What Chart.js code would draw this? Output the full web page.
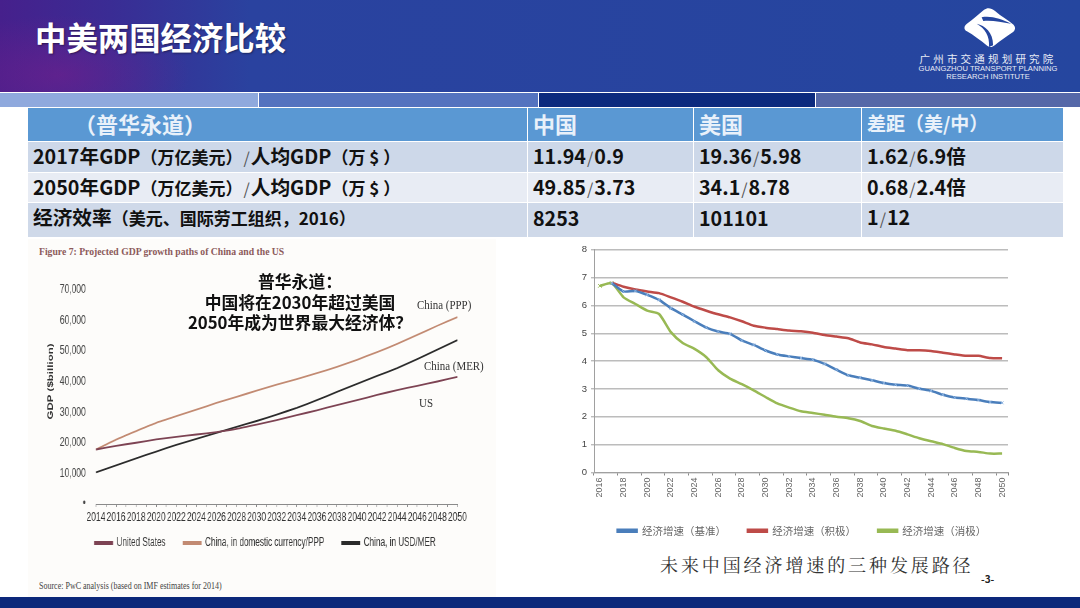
<!DOCTYPE html>
<html lang="zh">
<head>
<meta charset="utf-8">
<title>中美两国经济比较</title>
<script src="https://cdn.jsdelivr.net/npm/chart.js@4"></script>
<style>
html, body { margin: 0; padding: 0; background: #fff; }
#slide { position: relative; width: 1080px; height: 608px; overflow: hidden; font-family: "Noto Sans CJK SC", sans-serif; background: #fff; }
#slide > * { position: absolute; }
#head { left: 0; top: 0; width: 1080px; height: 92px;
  background: radial-gradient(ellipse 130px 60px at 60px 75px, rgba(120,30,140,.55), transparent),
              linear-gradient(90deg, #46208c 0, #3a2c94 110px, #2a429f 250px, #25469f 100%); }
#title { left: 35px; top: 16px; font-size: 31.4px; line-height: 42px; font-weight: 700; color: #fff; text-shadow: 1px 1px 2px rgba(0,0,0,.4); white-space: nowrap; }
.band { top: 93px; height: 14px; }
.logo-t { left: 905px; width: 166px; text-align: center; color: #e8ecf6; white-space: nowrap; }
#tbl { left: 27px; top: 108px; width: 1036px; border-collapse: separate; border-spacing: 0; table-layout: fixed; }
#tbl td { padding: 0 0 0 5px; font-weight: 700; font-size: 19.7px; line-height: 24px; color: #111; border-left: 1.5px solid #fff; border-top: 1.5px solid #fff; white-space: nowrap; overflow: hidden; }
#tbl tr:first-child td { background: #5a98d3; color: #e9f1fa; height: 29px; padding-bottom: 4px; font-size: 22px; border-top: 0; }
#tbl .r1 td { background: #cdd8e9; height: 29.5px; }
#tbl .r2 td { background: #e8ecf4; height: 29.5px; }
#tbl .r3 td { background: #cfd9e9; height: 29px; padding-bottom: 5px; }
#tbl small { font-size: 17px; font-weight: 700; }
#tbl i { font-style: normal; font-weight: 400; font-size: 16px; color: #555; padding: 0 1px; }
#figbg { left: 28px; top: 239px; width: 468px; height: 358px; background: #fdfcfa; }
.serif { font-family: "Liberation Serif", serif; white-space: nowrap; transform-origin: left top; }
.lab { font-size: 13px; color: #333; transform: scaleX(.84); }
#note { left: 150px; top: 271px; width: 300px; text-align: center; font-size: 16.8px; line-height: 20.5px; font-weight: 700; color: #111; white-space: nowrap; }
#cap { left: 660px; top: 551px; font-size: 18px; line-height: 26px; letter-spacing: 2.9px; color: #333; white-space: nowrap; font-family: "Noto Serif CJK SC", "Noto Sans CJK SC", sans-serif; }
#page { left: 981px; top: 571px; font-size: 10px; font-weight: 700; color: #222; }
#foot { left: 0; top: 597px; width: 1080px; height: 11px; background: #0c287a; }
canvas { display: block; }
</style>
</head>
<body>
<div id="slide">
  <div id="head"></div>
  <div id="title">中美两国经济比较</div>
  <svg style="left:962px;top:8px" width="54" height="40" viewBox="0 0 66 43" preserveAspectRatio="none">
    <path d="M6 17 C14 12 20 7 27 2 C31 -1 36 0 40 3 C48 9 56 13 63 18 C66 21 65 24 62 26 C55 30 47 35 40 40 C36 43 33 42 30 40 C23 35 14 29 6 25 C2 23 2 20 6 17 Z" fill="#fff"/>
    <path d="M33 42 C34 30 28 22 18 17 C28 19 38 26 38 40 Z" fill="#25469f"/>
    <path d="M24 10 C36 8 48 12 60 17 C48 15 36 13 26 14 Z" fill="#25469f"/>
  </svg>
  <div class="logo-t" style="top:52px;font-size:10.5px;line-height:14px;letter-spacing:3.2px">广州市交通规划研究院</div>
  <div class="logo-t" style="top:65px;font-size:7.6px;line-height:7.5px;font-family:'Liberation Sans',sans-serif">GUANGZHOU TRANSPORT PLANNING<br>RESEARCH INSTITUTE</div>
  <div class="band" style="left:0;width:258px;background:#8fa9dd"></div>
  <div class="band" style="left:259px;width:279px;background:#5473bf"></div>
  <div class="band" style="left:539px;width:276px;background:#0c2a7e"></div>
  <div class="band" style="left:816px;width:264px;background:#5568a8"></div>

  <table id="tbl">
    <colgroup><col style="width:500px"><col style="width:166px"><col style="width:168px"><col style="width:202px"></colgroup>
    <tr><td style="padding-left:46px">（普华永道）</td><td>中国</td><td>美国</td><td style="font-size:19px">差距（美/中）</td></tr>
    <tr class="r1"><td>2017年GDP<small>（万亿美元）</small><i>/</i>人均GDP<small>（万 $ ）</small></td><td>11.94<i>/</i>0.9</td><td>19.36<i>/</i>5.98</td><td>1.62<i>/</i>6.9倍</td></tr>
    <tr class="r2"><td>2050年GDP<small>（万亿美元）</small><i>/</i>人均GDP<small>（万 $ ）</small></td><td>49.85<i>/</i>3.73</td><td>34.1<i>/</i>8.78</td><td>0.68<i>/</i>2.4倍</td></tr>
    <tr class="r3"><td>经济效率<small>（美元、国际劳工组织，2016）</small></td><td>8253</td><td>101101</td><td>1<i>/</i>12</td></tr>
  </table>

  <div id="figbg"></div>
  <div class="serif" style="left:39px;top:244px;font-size:11px;line-height:14px;font-weight:700;color:#8c5a5a;transform:scaleX(.88)">Figure 7: Projected GDP growth paths of China and the US</div>
  <!-- 原图文字很窄, 没有窄体字, 所以整个画布横向压缩 -->
  <div style="left:46px;top:240px;width:625px;height:337px;transform:scaleX(.68);transform-origin:left top"><canvas id="gdpChart" width="625" height="337"></canvas></div>
  <div style="left:560px;top:240px;width:460px;height:311px"><canvas id="growthChart" width="460" height="311"></canvas></div>
  <div id="note">普华永道：<br>中国将在2030年超过美国<br>2050年成为世界最大经济体？</div>
  <div class="serif lab" style="left:417px;top:297px">China (PPP)</div>
  <div class="serif lab" style="left:424px;top:358px">China (MER)</div>
  <div class="serif lab" style="left:419px;top:395px">US</div>
  <div class="serif" style="left:39px;top:580px;font-size:10px;line-height:12px;color:#444;transform:scaleX(.8)">Source: PwC analysis (based on IMF estimates for 2014)</div>
  <div id="cap">未来中国经济增速的三种发展路径</div>
  <div id="page">-3-</div>
  <div id="foot"></div>
</div>

<script>
// 左图: GDP (十亿美元), 只读偶数年, 奇数年留空
const gdpYears = ['2014','2015','2016','2017','2018','2019','2020','2021','2022','2023','2024','2025','2026','2027','2028','2029','2030','2031','2032','2033','2034','2035','2036','2037','2038','2039','2040','2041','2042','2043','2044','2045','2046','2047','2048','2049','2050'];
const usGdp = [17800,null,19000,null,20000,null,21100,null,21900,null,22700,null,23500,null,24500,null,25900,null,27400,null,29000,null,30600,null,32300,null,33900,null,35600,null,37200,null,38600,null,40000,null,41500];
const chinaPpp = [17800,null,21000,null,23800,null,26500,null,28700,null,30800,null,33000,null,35000,null,37000,null,39000,null,40800,null,42700,null,44800,null,47100,null,49600,null,52300,null,55200,null,58200,null,61000];
const chinaMer = [10300,null,12600,null,14900,null,17100,null,19300,null,21300,null,23200,null,25200,null,27100,null,29200,null,31400,null,33900,null,36600,null,39200,null,41800,null,44400,null,47300,null,50400,null,53500];
const gdpNames = ['United States', 'China, in domestic currency/PPP', 'China, in USD/MER'];

// 右图: 经济增速 (%)
const growthYears = ['2016','2017','2018','2019','2020','2021','2022','2023','2024','2025','2026','2027','2028','2029','2030','2031','2032','2033','2034','2035','2036','2037','2038','2039','2040','2041','2042','2043','2044','2045','2046','2047','2048','2049','2050'];
const growthBase = [null,6.8,6.5,6.52,6.38,6.2,5.9,5.67,5.43,5.2,5.06,4.98,4.74,4.58,4.38,4.24,4.17,4.11,4.05,3.9,3.69,3.49,3.4,3.31,3.21,3.15,3.12,3.01,2.93,2.79,2.69,2.65,2.6,2.53,2.5];
const growthHigh = [null,6.82,6.67,6.57,6.5,6.44,6.29,6.13,5.95,5.81,5.68,5.57,5.43,5.27,5.2,5.15,5.1,5.07,5.02,4.94,4.88,4.82,4.67,4.6,4.51,4.45,4.39,4.39,4.36,4.3,4.24,4.19,4.19,4.11,4.1];
const growthLow = [6.7,6.8,6.29,6.05,5.81,5.69,5.04,4.65,4.44,4.14,3.67,3.37,3.17,2.95,2.71,2.48,2.33,2.2,2.14,2.07,2,1.95,1.85,1.67,1.58,1.5,1.37,1.23,1.12,1.02,0.88,0.77,0.74,0.68,0.68];
const growthNames = ['经济增速（基准）', '经济增速（积极）', '经济增速（消极）'];

const sans = '"Liberation Sans", sans-serif';
const cjk = '"Noto Sans CJK SC", sans-serif';

// 图例位置在 layout 之后挪一下, Chart.js 自己放不到原图的位置
function shiftLegend(dx, dy) {
    return {
        id: 'shiftLegend',
        afterLayout(chart) {
            chart.legend.left += dx;
            chart.legend.right += dx;
            chart.legend.top += dy;
            chart.legend.bottom += dy;
        }
    };
}

new Chart(document.getElementById('gdpChart').getContext('2d'), {
    type: 'line',
    data: {
        labels: gdpYears,
        datasets: [
            { label: gdpNames[0], data: usGdp, borderColor: '#7d4353', backgroundColor: '#7d4353' },
            { label: gdpNames[1], data: chinaPpp, borderColor: '#c28a72', backgroundColor: '#c28a72' },
            { label: gdpNames[2], data: chinaMer, borderColor: '#2b2b2b', backgroundColor: '#2b2b2b' }
        ].map(d => ({ ...d, borderWidth: 1.8, pointRadius: 0, spanGaps: true, tension: 0.2 }))
    },
    plugins: [shiftLegend(20, -18)],
    options: {
        responsive: false,
        animation: false,
        layout: { padding: { top: 19, right: 20 } },
        scales: {
            x: {
                offset: false,
                afterFit: s => { s.height = 25; },
                border: { color: '#8a8a8a' },
                grid: { drawOnChartArea: false, tickLength: 3, color: '#8a8a8a' },
                ticks: {
                    autoSkip: false, maxRotation: 0, minRotation: 0, padding: 3,
                    color: '#333', font: { family: sans, size: 12.5 },
                    callback: function (v, i) { return i % 2 ? '' : this.getLabelForValue(v); }
                }
            },
            y: {
                min: 0, max: 80000,
                afterFit: s => { s.width = 73.5; },
                border: { display: false },
                grid: { display: false },
                title: { display: true, text: 'GDP ($billion)', color: '#333', padding: 0, font: { family: sans, size: 11.5, weight: 'bold' } },
                ticks: {
                    stepSize: 10000, padding: 7,
                    color: '#444', font: { family: sans, size: 12.5 },
                    callback: v => v > 70000 ? '' : (v === 0 ? '•' : v.toLocaleString('en-US'))
                }
            }
        },
        plugins: {
            tooltip: { enabled: false },
            legend: {
                position: 'bottom',
                labels: { boxWidth: 26, boxHeight: 2, padding: 26, color: '#333', font: { family: sans, size: 12 } }
            }
        }
    }
});

new Chart(document.getElementById('growthChart').getContext('2d'), {
    type: 'line',
    data: {
        labels: growthYears,
        datasets: [
            { label: growthNames[0], data: growthBase, borderColor: '#4a7ebb', backgroundColor: '#4a7ebb', pointRadius: 2, pointStyle: 'crossRot', pointBorderColor: '#8db4e2', pointBorderWidth: 1 },
            { label: growthNames[1], data: growthHigh, borderColor: '#be4b48', backgroundColor: '#be4b48', pointRadius: 0 },
            { label: growthNames[2], data: growthLow, borderColor: '#98b954', backgroundColor: '#98b954', pointStyle: 'crossRot', pointBorderColor: '#98b954', pointBorderWidth: 1, pointRadius: ctx => ctx.dataIndex < 2 ? 2.5 : 0 }
        ].map(d => ({ ...d, borderWidth: 2.5, tension: 0.2 }))
    },
    plugins: [shiftLegend(9, -5)],
    options: {
        responsive: false,
        animation: false,
        layout: { padding: { top: 8, left: 18, right: 12 } },
        scales: {
            x: {
                offset: true,
                afterFit: s => { s.height = 36; },
                border: { color: '#a0a0a0' },
                grid: {
                    offset: true, drawOnChartArea: false, tickLength: 3,
                    tickColor: ctx => ctx.index % 2 ? 'rgba(0,0,0,0)' : '#888'
                },
                ticks: {
                    autoSkip: false, minRotation: 90, maxRotation: 90, padding: 2,
                    color: '#666', font: { family: sans, size: 9 },
                    callback: function (v, i) { return i % 2 ? '' : this.getLabelForValue(v); }
                }
            },
            y: {
                min: 0, max: 8,
                afterFit: s => { s.width = 16; },
                border: { color: '#a0a0a0' },
                grid: { color: '#bcbcbc', lineWidth: 1.4, tickLength: 3 },
                ticks: { stepSize: 1, padding: 4, color: '#444', font: { family: sans, size: 9.5 } }
            }
        },
        plugins: {
            tooltip: { enabled: false },
            legend: {
                position: 'bottom',
                labels: { boxWidth: 19, boxHeight: 2, padding: 22, color: '#666', font: { family: cjk, size: 10.5 } }
            }
        }
    }
});
</script>
</body>
</html>
